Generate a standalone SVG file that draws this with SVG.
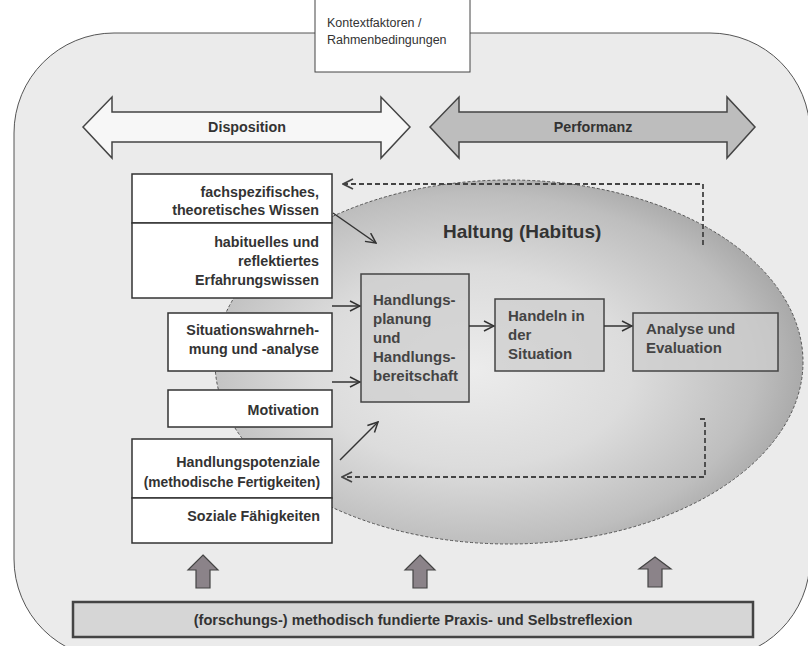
<svg xmlns="http://www.w3.org/2000/svg" width="808" height="646" viewBox="0 0 808 646">
<defs>
<radialGradient id="ell" cx="0.44" cy="0.52" r="0.6">
<stop offset="0" stop-color="#ececec"/>
<stop offset="0.45" stop-color="#dcdcdc"/>
<stop offset="0.8" stop-color="#bebebe"/>
<stop offset="1" stop-color="#a0a0a0"/>
</radialGradient>
<marker id="ah" viewBox="0 0 12 12" refX="11" refY="6" markerWidth="12" markerHeight="12" markerUnits="userSpaceOnUse" orient="auto">
<path d="M1,1 L11,6 L1,11" fill="none" stroke="#333" stroke-width="1.5"/>
</marker>
<marker id="dh" viewBox="0 0 12 12" refX="11" refY="6" markerWidth="12" markerHeight="12" markerUnits="userSpaceOnUse" orient="auto">
<path d="M1,1 L11,6 L1,11" fill="none" stroke="#444" stroke-width="1.8"/>
</marker>
</defs>
<style>
.t{font-family:"Liberation Sans",Arial,sans-serif;font-weight:bold;fill:#333}
.lt{font-size:14.3px}
.ct{font-size:15px;fill:#444}
.lb{fill:#fff;stroke:#333;stroke-width:1.5}
.cb{fill:#cdcdcd;fill-opacity:0.75;stroke:#444;stroke-width:1.5}
.c{fill:none;stroke:#333;stroke-width:1.5}
.d{fill:none;stroke:#444;stroke-width:1.8;stroke-dasharray:5 3}
.up{fill:#8b8389;stroke:#444;stroke-width:1.2}
</style>
<rect width="808" height="646" fill="#ffffff"/>
<g id="background">
<rect x="14" y="33" width="796" height="626" rx="100" ry="100" fill="#ebebeb" stroke="#555" stroke-width="1"/>
</g>
<g id="kontext">
<rect x="315" y="-2" width="155" height="74" fill="#fff" stroke="#444" stroke-width="1"/>
<text x="327" y="27" font-family="Liberation Sans,Arial,sans-serif" font-size="12.5" fill="#333">Kontextfaktoren /</text>
<text x="327" y="44" font-family="Liberation Sans,Arial,sans-serif" font-size="12.5" fill="#333">Rahmenbedingungen</text>
</g>
<g id="disposition">
<path d="M83,127 L112,97 L112,112 L381,112 L381,97 L410,127 L381,158 L381,142 L112,142 L112,158 Z" fill="#f7f7f7" stroke="#444" stroke-width="1.5"/>
<text class="t" x="247" y="132" font-size="14.3" text-anchor="middle">Disposition</text>
</g>
<g id="performanz">
<path d="M430,127 L459,97 L459,112 L727,112 L727,97 L755,127 L727,158 L727,142 L459,142 L459,158 Z" fill="#bdbdbd" stroke="#444" stroke-width="1.5"/>
<text class="t" x="593" y="132" font-size="14.3" text-anchor="middle">Performanz</text>
</g>
<g id="haltung">
<ellipse cx="509" cy="362" rx="294" ry="182" fill="url(#ell)" stroke="#555" stroke-width="1" stroke-dasharray="3 2"/>
<text class="t" x="443" y="238" font-size="19" fill="#444">Haltung (Habitus)</text>
</g>
<g id="wissen">
<rect class="lb" x="132" y="174" width="200" height="49"/>
<text class="t lt" x="319" y="197" text-anchor="end">fachspezifisches,</text>
<text class="t lt" x="319" y="215" text-anchor="end">theoretisches Wissen</text>
</g>
<g id="erfahrung">
<rect class="lb" x="132" y="223" width="200" height="75"/>
<text class="t lt" x="319" y="247" text-anchor="end">habituelles und</text>
<text class="t lt" x="319" y="266" text-anchor="end">reflektiertes</text>
<text class="t lt" x="319" y="285" text-anchor="end">Erfahrungswissen</text>
</g>
<g id="situation">
<rect class="lb" x="168" y="313" width="164" height="58"/>
<text class="t lt" x="319" y="335" text-anchor="end">Situationswahrneh-</text>
<text class="t lt" x="319" y="354" text-anchor="end">mung und -analyse</text>
</g>
<g id="motivation">
<rect class="lb" x="168" y="390" width="164" height="37"/>
<text class="t lt" x="319" y="415" text-anchor="end">Motivation</text>
</g>
<g id="potenziale">
<rect class="lb" x="132" y="439" width="200" height="59"/>
<text class="t lt" x="320" y="467" text-anchor="end">Handlungspotenziale</text>
<text class="t" x="320" y="487" font-size="13.8" text-anchor="end">(methodische Fertigkeiten)</text>
</g>
<g id="sozial">
<rect class="lb" x="132" y="498" width="200" height="45"/>
<text class="t lt" x="320" y="521" text-anchor="end">Soziale Fähigkeiten</text>
</g>
<g id="planung">
<rect class="cb" x="361" y="274" width="108" height="128"/>
<text class="t ct"><tspan x="373" y="305">Handlungs-</tspan><tspan x="373" y="324">planung</tspan><tspan x="373" y="343">und</tspan><tspan x="373" y="362">Handlungs-</tspan><tspan x="373" y="381">bereitschaft</tspan></text>
</g>
<g id="handeln">
<rect class="cb" x="495" y="299" width="109" height="72"/>
<text class="t ct"><tspan x="508" y="321">Handeln in</tspan><tspan x="508" y="340">der</tspan><tspan x="508" y="359">Situation</tspan></text>
</g>
<g id="analyse">
<rect class="cb" x="633" y="313" width="145" height="58"/>
<text class="t ct"><tspan x="646" y="334">Analyse und</tspan><tspan x="646" y="353">Evaluation</tspan></text>
</g>
<g id="praxis">
<rect x="73" y="602" width="680" height="35" fill="#d6d6d6" stroke="#444" stroke-width="2.5"/>
<text class="t" x="413" y="625" font-size="14.6" text-anchor="middle">(forschungs-) methodisch fundierte Praxis- und Selbstreflexion</text>
</g>
<g id="connectors">
<line class="c" x1="333" y1="213" x2="376" y2="243" marker-end="url(#ah)"/>
<line class="c" x1="332" y1="306" x2="360" y2="306" marker-end="url(#ah)"/>
<line class="c" x1="332" y1="382" x2="360" y2="382" marker-end="url(#ah)"/>
<line class="c" x1="340" y1="460" x2="378" y2="422" marker-end="url(#ah)"/>
<line class="c" x1="469" y1="326" x2="494" y2="326" marker-end="url(#ah)"/>
<line class="c" x1="604" y1="326" x2="632" y2="326" marker-end="url(#ah)"/>
<polyline class="d" points="703,245 703,184 343,184" marker-end="url(#dh)"/>
<polyline class="d" points="700,419 705,419 705,477 342,477" marker-end="url(#dh)"/>
<path class="up" d="M203,555 L218,570 L210,570 L210,588 L196,588 L196,570 L188,570 Z"/>
<path class="up" d="M420,555 L435,570 L427,570 L427,588 L413,588 L413,570 L405,570 Z"/>
<path class="up" d="M655,557 L671,569 L662,569 L662,587 L648,587 L648,569 L639,569 Z"/>
</g>
</svg>
